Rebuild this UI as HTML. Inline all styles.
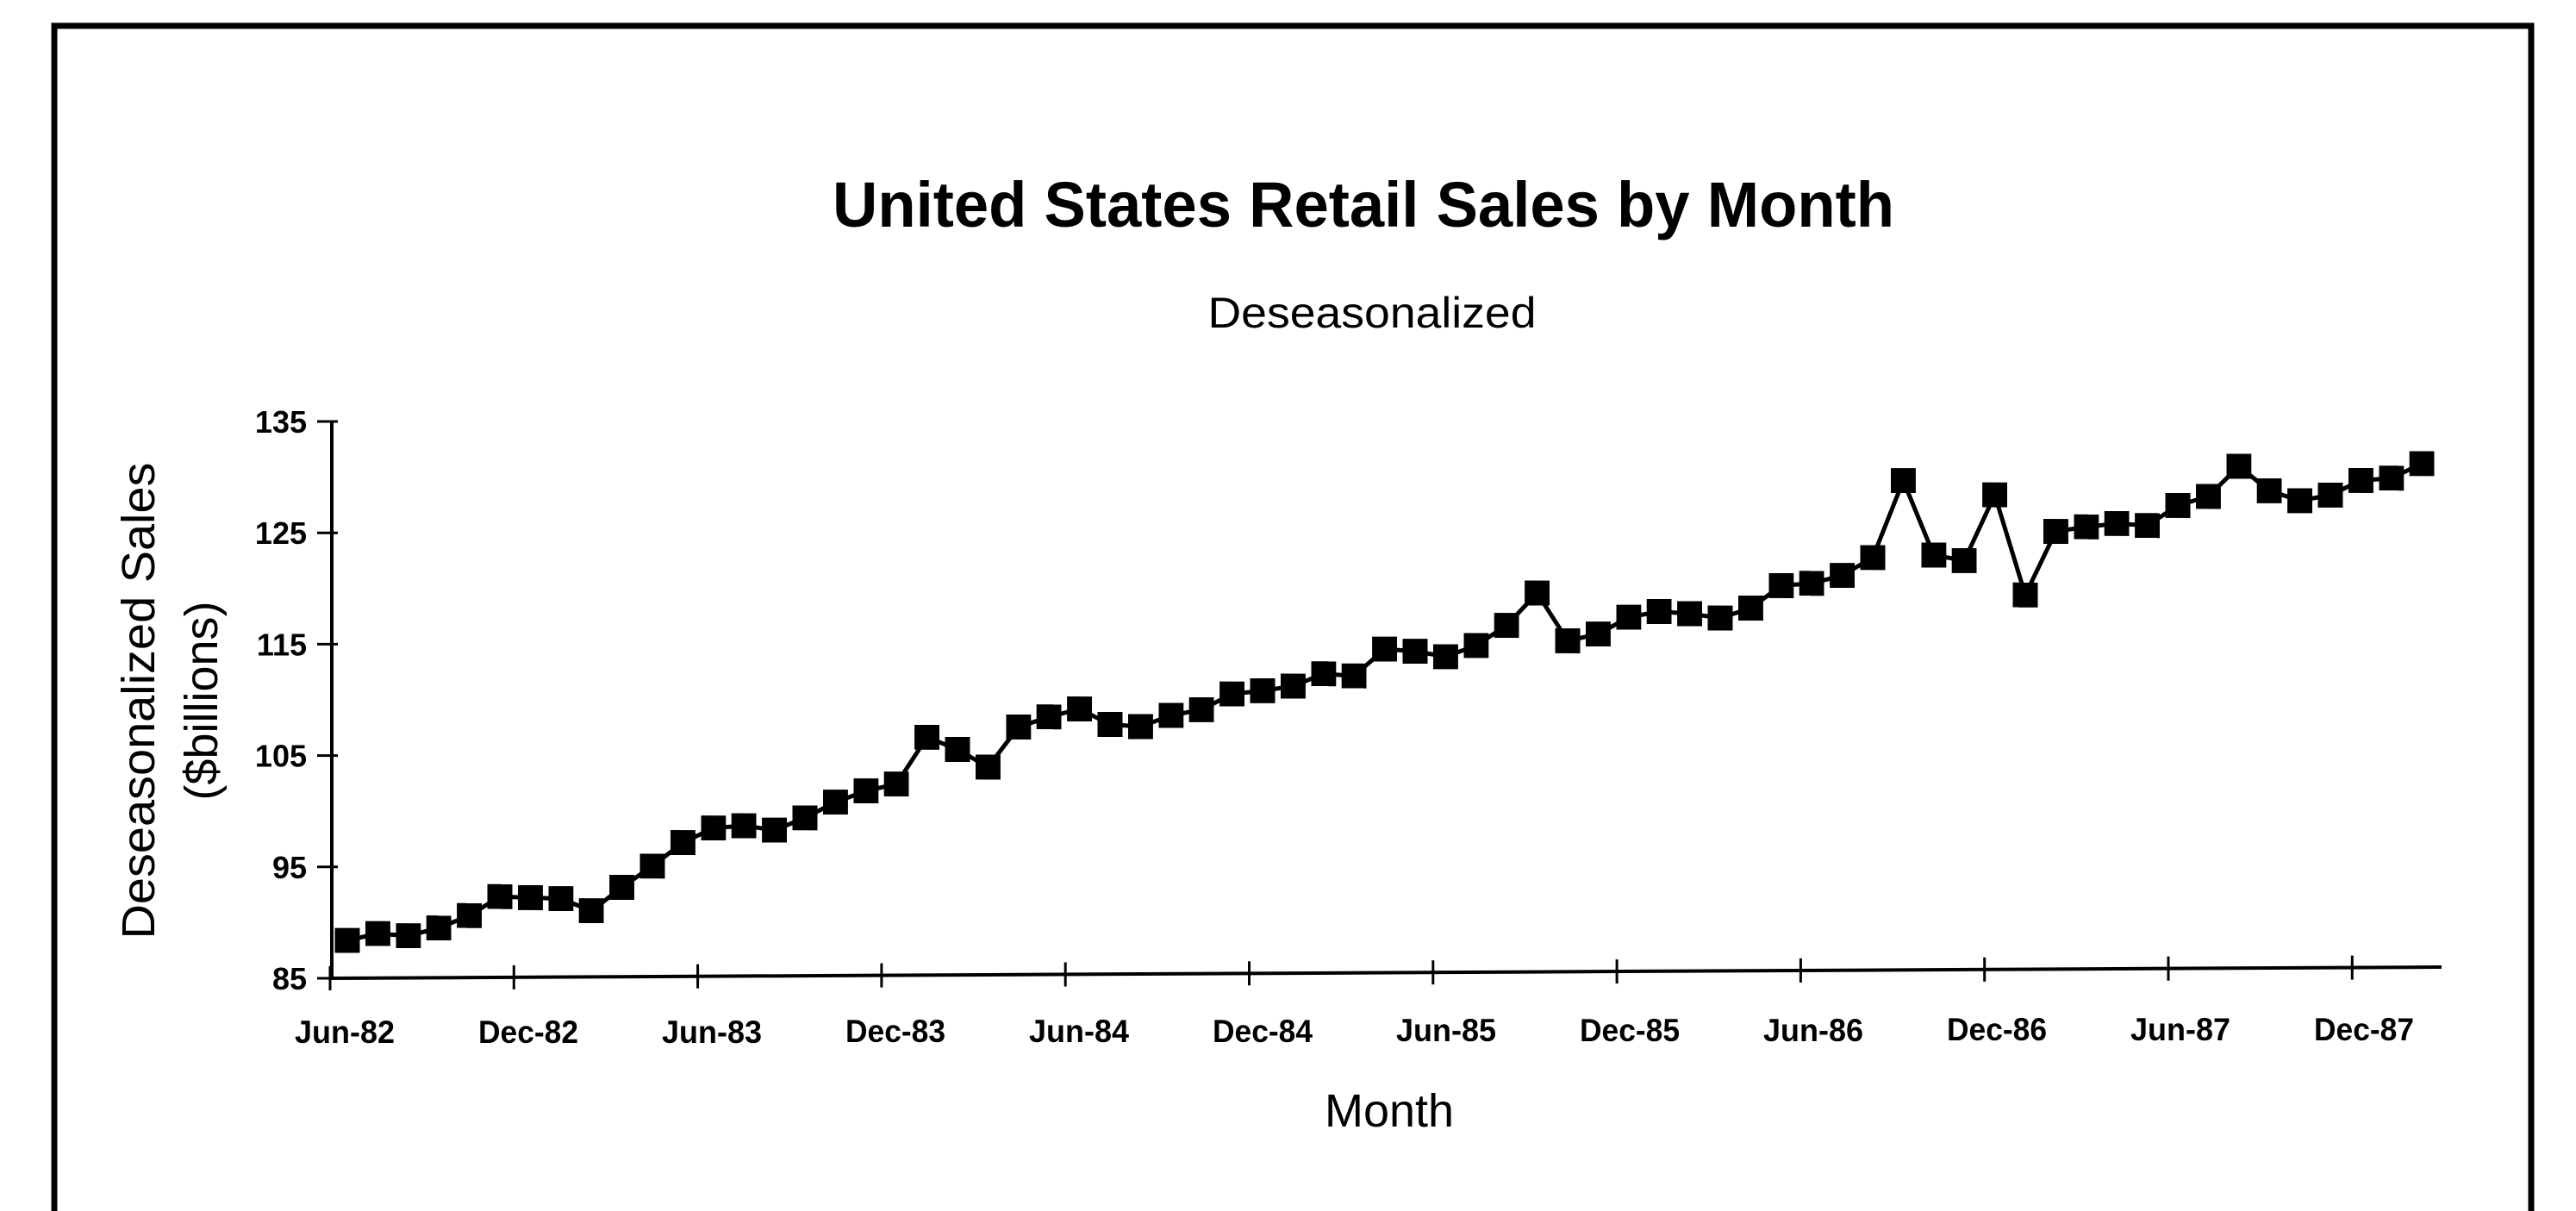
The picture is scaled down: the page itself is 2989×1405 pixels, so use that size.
<!DOCTYPE html>
<html><head><meta charset="utf-8"><style>html,body{margin:0;padding:0;background:#fff}svg{display:block}</style></head>
<body>
<svg width="2989" height="1405" viewBox="0 0 2989 1405" xmlns="http://www.w3.org/2000/svg" font-family="Liberation Sans, Arial, sans-serif">
<defs>
<marker id="sq" viewBox="0 0 29 29" refX="14.5" refY="14.5" markerWidth="29" markerHeight="29" markerUnits="userSpaceOnUse"><rect width="29" height="29" fill="#000"/></marker>
</defs>
<rect width="2989" height="1405" fill="#fff"/>
<path d="M63 1405 V30 H2937 V1405" fill="none" stroke="#000" stroke-width="7"/>
<text x="1582" y="263" font-size="74" font-weight="bold" text-anchor="middle" textLength="1232" lengthAdjust="spacingAndGlyphs">United States Retail Sales by Month</text>
<text x="1592" y="380" font-size="50" text-anchor="middle" textLength="381" lengthAdjust="spacingAndGlyphs">Deseasonalized</text>
<text transform="translate(179,813) rotate(-90)" font-size="54" text-anchor="middle" textLength="553" lengthAdjust="spacingAndGlyphs">Deseasonalized Sales</text>
<text transform="translate(252,813) rotate(-90)" font-size="54" text-anchor="middle">($billions)</text>
<g stroke="#000" stroke-width="4">
<line x1="385" y1="489" x2="385" y2="1135"/>
<line x1="383" y1="1135" x2="2833" y2="1122"/>
</g>
<g stroke="#000" stroke-width="3">
<line x1="368" y1="1135" x2="392" y2="1135"/>
<line x1="368" y1="1005.8" x2="392" y2="1005.8"/>
<line x1="368" y1="876.6" x2="392" y2="876.6"/>
<line x1="368" y1="747.4" x2="392" y2="747.4"/>
<line x1="368" y1="618.2" x2="392" y2="618.2"/>
<line x1="368" y1="489" x2="392" y2="489"/>
<line x1="383" y1="1121" x2="383" y2="1149"/>
<line x1="596.3" y1="1119.9" x2="596.3" y2="1147.9"/>
<line x1="809.6" y1="1118.7" x2="809.6" y2="1146.7"/>
<line x1="1022.9" y1="1117.6" x2="1022.9" y2="1145.6"/>
<line x1="1236.2" y1="1116.5" x2="1236.2" y2="1144.5"/>
<line x1="1449.5" y1="1115.3" x2="1449.5" y2="1143.3"/>
<line x1="1662.8" y1="1114.2" x2="1662.8" y2="1142.2"/>
<line x1="1876.1" y1="1113.1" x2="1876.1" y2="1141.1"/>
<line x1="2089.4" y1="1111.9" x2="2089.4" y2="1139.9"/>
<line x1="2302.7" y1="1110.8" x2="2302.7" y2="1138.8"/>
<line x1="2516" y1="1109.7" x2="2516" y2="1137.7"/>
<line x1="2729.3" y1="1108.6" x2="2729.3" y2="1136.6"/>
</g>
<g font-size="36" font-weight="bold" text-anchor="end">
<text x="356" y="1148">85</text>
<text x="356" y="1018.8">95</text>
<text x="356" y="889.6">105</text>
<text x="356" y="760.4">115</text>
<text x="356" y="631.2">125</text>
<text x="356" y="502">135</text>
</g>
<g font-size="37" font-weight="bold" text-anchor="middle">
<text x="400" y="1210" textLength="116" lengthAdjust="spacingAndGlyphs">Jun-82</text>
<text x="613" y="1210" textLength="116" lengthAdjust="spacingAndGlyphs">Dec-82</text>
<text x="826" y="1210" textLength="116" lengthAdjust="spacingAndGlyphs">Jun-83</text>
<text x="1039" y="1209" textLength="116" lengthAdjust="spacingAndGlyphs">Dec-83</text>
<text x="1252" y="1209" textLength="116" lengthAdjust="spacingAndGlyphs">Jun-84</text>
<text x="1465" y="1209" textLength="116" lengthAdjust="spacingAndGlyphs">Dec-84</text>
<text x="1678" y="1208" textLength="116" lengthAdjust="spacingAndGlyphs">Jun-85</text>
<text x="1891" y="1208" textLength="116" lengthAdjust="spacingAndGlyphs">Dec-85</text>
<text x="2104" y="1208" textLength="116" lengthAdjust="spacingAndGlyphs">Jun-86</text>
<text x="2317" y="1207" textLength="116" lengthAdjust="spacingAndGlyphs">Dec-86</text>
<text x="2530" y="1207" textLength="116" lengthAdjust="spacingAndGlyphs">Jun-87</text>
<text x="2743" y="1207" textLength="116" lengthAdjust="spacingAndGlyphs">Dec-87</text>
</g>
<text x="1612" y="1307" font-size="54" text-anchor="middle" textLength="150" lengthAdjust="spacingAndGlyphs">Month</text>
<g transform="matrix(1,0.0025,0,1,0,3)">
<polyline fill="none" stroke="#000" stroke-width="5" marker-start="url(#sq)" marker-mid="url(#sq)" marker-end="url(#sq)" points="403,1087.1 438.4,1079.1 473.8,1081.5 509.2,1072.3 544.6,1057.9 580,1035.8 615.4,1036.9 650.8,1038 686.2,1052 721.6,1024.7 757,999.9 792.4,972.6 827.8,955.6 863.2,952.9 898.6,957.9 934,943.5 969.4,925.2 1004.8,912.1 1040.2,904.1 1075.6,849.6 1111,863.7 1146.4,884.1 1181.8,837.5 1217.2,825.7 1252.6,816.4 1288,834.3 1323.4,836.7 1358.8,823.6 1394.2,816.9 1429.6,798.6 1465,794.7 1500.4,789.3 1535.8,774.9 1571.2,777.3 1606.6,746.1 1642,748.5 1677.4,754.7 1712.8,741.6 1748.2,718.2 1783.6,680.6 1819,735.9 1854.4,728 1889.8,708.4 1925.2,701.7 1960.6,704.1 1996,709.1 2031.4,697.4 2066.8,671.3 2102.2,668.5 2137.6,659.3 2173,638.4 2208.4,549.1 2243.8,635.4 2279.2,641.7 2314.6,565.4 2350,681.4 2385.4,607.6 2420.8,602.2 2456.2,598.2 2491.6,600.5 2527,577.1 2562.4,566.5 2597.8,531.5 2633.2,559.8 2668.6,571.2 2704,564.6 2739.4,547.6 2774.8,544.8 2810.2,527.8"/>
</g>
</svg>
</body></html>
